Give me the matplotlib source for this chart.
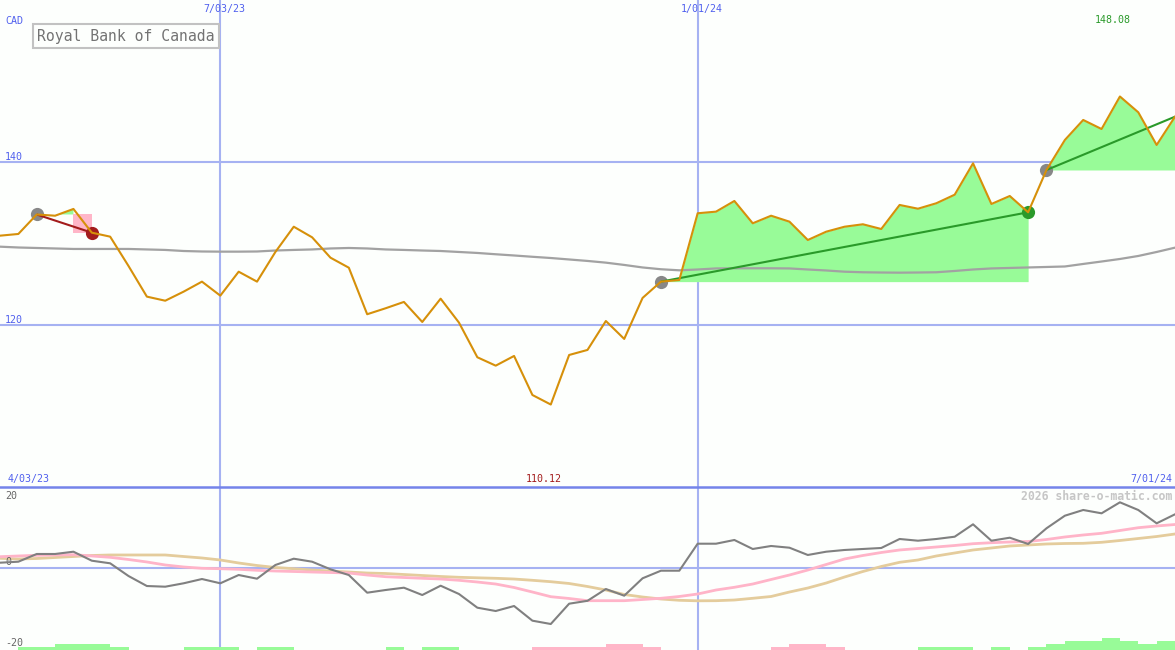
import numpy as np
import matplotlib
matplotlib.use('Agg')
import matplotlib.pyplot as plt
from matplotlib.lines import Line2D
from matplotlib.patches import Rectangle

# ---------------- data ----------------
title = 'Royal Bank of Canada'
currency = 'CAD'
start_label = '4/03/23'
end_label = '7/01/24'
tick_idx = [12, 38]
tick_labels = ['7/03/23', '1/01/24']
price_grid = [140, 120]
osc_levels = [20, 0, -20]
high_label = '148.08'
low_label = '110.12'
credit = '2026 share-o-matic.com'

price = [130.92, 131.13, 133.52, 133.37, 134.20, 131.29, 130.80, 127.20, 123.44, 122.94,
         124.05, 125.28, 123.56, 126.50, 125.28, 128.92, 132.02, 130.72, 128.22, 126.99,
         121.28, 122.01, 122.79, 120.33, 123.19, 120.25, 116.00, 114.97, 116.16, 111.37,
         110.20, 116.28, 116.90, 120.45, 118.25, 123.28, 125.28, 125.48, 133.67, 133.87,
         135.18, 132.44, 133.37, 132.64, 130.39, 131.41, 132.02, 132.32, 131.74, 134.69,
         134.23, 134.90, 135.95, 139.80, 134.81, 135.79, 133.79, 138.98, 142.66, 145.12,
         144.01, 148.00, 146.06, 142.05, 145.52]

ma = [129.57, 129.47, 129.41, 129.35, 129.29, 129.29, 129.29, 129.29, 129.23, 129.17,
      129.04, 128.98, 128.96, 128.96, 128.98, 129.10, 129.17, 129.23, 129.35, 129.41,
      129.35, 129.23, 129.17, 129.10, 129.04, 128.92, 128.80, 128.64, 128.49, 128.33,
      128.18, 128.00, 127.82, 127.61, 127.33, 127.02, 126.80, 126.67, 126.77, 126.90,
      126.92, 126.92, 126.92, 126.90, 126.77, 126.65, 126.50, 126.43, 126.40, 126.38,
      126.40, 126.43, 126.59, 126.77, 126.90, 126.96, 127.02, 127.08, 127.14, 127.45,
      127.75, 128.06, 128.43, 128.92, 129.45]

osc = [1.25, 1.50, 3.43, 3.43, 4.00, 1.75, 1.10, -2.08, -4.58, -4.75,
       -3.90, -2.83, -3.90, -1.83, -2.75, 0.68, 2.25, 1.50, -0.40, -1.83,
       -6.25, -5.58, -5.00, -6.83, -4.50, -6.58, -10.00, -10.83, -9.58, -13.25,
       -14.08, -9.00, -8.28, -5.33, -7.00, -2.65, -0.75, -0.75, 6.00, 6.00,
       6.93, 4.68, 5.43, 5.00, 3.18, 4.00, 4.43, 4.68, 4.93, 7.18,
       6.75, 7.18, 7.75, 10.85, 6.75, 7.50, 5.93, 9.85, 13.00, 14.43,
       13.60, 16.35, 14.43, 11.10, 13.35]

osc_fast = [2.75, 2.93, 3.10, 3.18, 3.25, 2.93, 2.60, 2.05, 1.43, 0.68,
            0.18, -0.15, -0.25, -0.40, -0.65, -0.83, -0.95, -1.08, -1.20, -1.33,
            -1.83, -2.25, -2.45, -2.65, -2.83, -3.15, -3.58, -4.08, -4.95, -6.08,
            -7.25, -7.70, -8.25, -8.25, -8.25, -7.95, -7.65, -7.20, -6.58, -5.58,
            -4.90, -4.08, -2.95, -1.83, -0.58, 0.80, 2.18, 3.05, 3.80, 4.43,
            4.80, 5.18, 5.55, 6.00, 6.25, 6.43, 6.55, 7.05, 7.68, 8.18,
            8.60, 9.30, 10.00, 10.43, 10.80]

osc_slow = [2.35, 2.18, 2.30, 2.55, 2.80, 3.05, 3.18, 3.18, 3.18, 3.18,
            2.80, 2.43, 1.93, 1.18, 0.55, 0.05, -0.25, -0.58, -0.83, -1.08,
            -1.33, -1.45, -1.70, -1.95, -2.20, -2.40, -2.53, -2.65, -2.83, -3.15,
            -3.50, -3.95, -4.70, -5.58, -6.70, -7.33, -7.83, -8.15, -8.28, -8.25,
            -8.08, -7.65, -7.20, -6.08, -5.08, -3.83, -2.33, -0.95, 0.30, 1.35,
            1.93, 2.93, 3.68, 4.43, 4.93, 5.43, 5.68, 5.93, 6.05, 6.10,
            6.35, 6.80, 7.30, 7.80, 8.43]

# weekly signal strength for each interval between consecutive points
signal = [0, 1, 1, 2, 2, 2, 1, 0, 0, 0, 1, 1, 1, 0, 1, 1, 0, 0, 0, 0,
          0, 1, 0, 1, 1, 0, 0, 0, 0, -1, -1, -1, -1, -2, -2, -1, 0, 0, 0, 0,
          0, 0, -1, -2, -2, -1, 0, 0, 0, 0, 1, 1, 1, 0, 1, 0, 1, 2, 3, 3,
          4, 3, 2, 3]

trade_entry = [2, 36, 57]
trade_exit = [5, 56, 64]
trade_open = [False, False, True]

# ---------------- style ----------------
W, H, DPI = 1175, 650, 100
SPLIT = 487
BG = '#fdfffd'
GRID = '#a6b2f2'
SEP = '#7484ea'
TXT_BLUE = '#5060ee'
PRICE_C = '#d6900a'
MA_C = '#a2a2a2'
FILL_G = '#98fb98'
FILL_P = '#ffb6c8'
TREND_G = '#2a9a2a'
TREND_R = '#a31c1c'
OSC_C = '#808080'
FAST_C = '#ffb4c8'
SLOW_C = '#e4cc9c'
MONO = 'DejaVu Sans Mono'
plt.rcParams['font.family'] = [MONO, 'DejaVu Sans']

x = np.arange(len(price))
p = np.array(price)

fig = plt.figure(figsize=(W / DPI, H / DPI), dpi=DPI, facecolor=BG)
ax1 = fig.add_axes([0, (H - SPLIT) / H, 1, SPLIT / H])
ax2 = fig.add_axes([0, 0, 1, (H - SPLIT) / H])
for ax in (ax1, ax2):
    ax.set_facecolor(BG)
    ax.set_xlim(0, len(price) - 1)
    ax.axis('off')
ax1.set_ylim(100.08, 159.84)
ax2.set_ylim(-20.58, 20.18)

# grid
for ax in (ax1, ax2):
    for t in tick_idx:
        ax.axvline(t, color=GRID, lw=1.5, zorder=0.5)
for g in price_grid:
    ax1.axhline(g, color=GRID, lw=1.5, zorder=0.5)
ax2.axhline(0, color=GRID, lw=1.5, zorder=0.5)
fig.add_artist(Line2D([0, 1], [(H - SPLIT) / H] * 2, transform=fig.transFigure,
                      color=SEP, lw=1.8))

# trades
for e, xx, op in zip(trade_entry, trade_exit, trade_open):
    ent, ex = price[e], price[xx]
    loss = ex < ent
    last = xx - 1 if (loss and not op) else xx
    xs = x[e:last + 1]
    ps = p[e:last + 1]
    ax1.fill_between(xs, ps, ent, where=ps >= ent, interpolate=True,
                     color=FILL_G, lw=0, zorder=1)
    ax1.fill_between(xs, ps, ent, where=ps < ent, interpolate=True,
                     color=FILL_P, lw=0, zorder=1)
    if loss and not op:
        ax1.fill_between([x[xx - 1], x[xx]], [ex, ex], ent, color=FILL_P, lw=0, zorder=1)
    col = TREND_R if loss else TREND_G
    ax1.plot([x[e], x[xx]], [ent, ex], color=col, lw=1.5, zorder=4,
             solid_capstyle='butt')
    ax1.plot([x[e]], [ent], 'o', color='#888888', ms=9.5, mew=0, zorder=3)
    if not op:
        ax1.plot([x[xx]], [ex], 'o', color=col, ms=9.5, mew=0, zorder=3)

ax1.plot(x, ma, color=MA_C, lw=1.6, zorder=2)
ax1.plot(x, price, color=PRICE_C, lw=1.5, zorder=5)

# lower panel
lvl = 0.78
sig = np.array(signal)
ymin = ax2.get_ylim()[0]
ax2.bar(np.arange(len(sig)), np.abs(sig) * lvl, bottom=ymin, width=1, align='edge',
        color=[FILL_G if s > 0 else FILL_P for s in sig], lw=0, zorder=1)
ax2.plot(x, osc_slow, color=SLOW_C, lw=2.0, zorder=2)
ax2.plot(x, osc_fast, color=FAST_C, lw=2.0, zorder=3)
ax2.plot(x, osc, color=OSC_C, lw=1.5, zorder=4)

# text
fs = 7.2
ax1.text(5 / W, 1 - 21 / SPLIT, currency, transform=ax1.transAxes, ha='left',
         va='center', color=TXT_BLUE, fontsize=fs)
for t, lab in zip(tick_idx, tick_labels):
    ax1.annotate(lab, xy=(t, 1), xycoords=('data', 'axes fraction'), xytext=(4, -9),
                 textcoords='offset pixels', ha='center', va='center',
                 color=TXT_BLUE, fontsize=fs)
for g in price_grid:
    ax1.annotate(str(g), xy=(0, g), xycoords=('axes fraction', 'data'), xytext=(5, 2),
                 textcoords='offset pixels', ha='left', va='baseline',
                 color=TXT_BLUE, fontsize=fs)
fig.text(8 / W, 1 - 479 / H, start_label, ha='left', va='center', color=TXT_BLUE, fontsize=fs)
fig.text(1172 / W, 1 - 479 / H, end_label, ha='right', va='center', color=TXT_BLUE, fontsize=fs)

imax = int(np.argmax(p))
imin = int(np.argmin(p))
ax1.annotate(high_label, xy=(imax, 1), xycoords=('data', 'axes fraction'), xytext=(-7, -20),
             textcoords='offset pixels', ha='center', va='center', color=TREND_G, fontsize=fs)
ax1.annotate(low_label, xy=(imin, 0), xycoords=('data', 'axes fraction'), xytext=(-7, 8),
             textcoords='offset pixels', ha='center', va='center', color=TREND_R, fontsize=fs)

for v, off in zip(osc_levels, [-11.5, 2.5, 2]):
    ax2.annotate(str(v), xy=(0, v), xycoords=('axes fraction', 'data'), xytext=(5, off),
                 textcoords='offset pixels', ha='left', va='baseline',
                 color='#666666', fontsize=fs)

fig.text(1172 / W, 1 - 496 / H, credit, ha='right', va='center', color='#c6c6c6',
         fontsize=8.3, fontweight='bold')

# title box
fig.add_artist(Rectangle((32.5 / W, 1 - 48 / H), (219 - 32.5) / W, 23.5 / H,
                         transform=fig.transFigure, fill=False, ec='#c2c2c2', lw=1.5))
fig.text(37 / W, 1 - 37 / H, title, ha='left', va='center', color='#737373', fontsize=10.6)

fig.savefig('out.png', dpi=DPI, facecolor=BG)
